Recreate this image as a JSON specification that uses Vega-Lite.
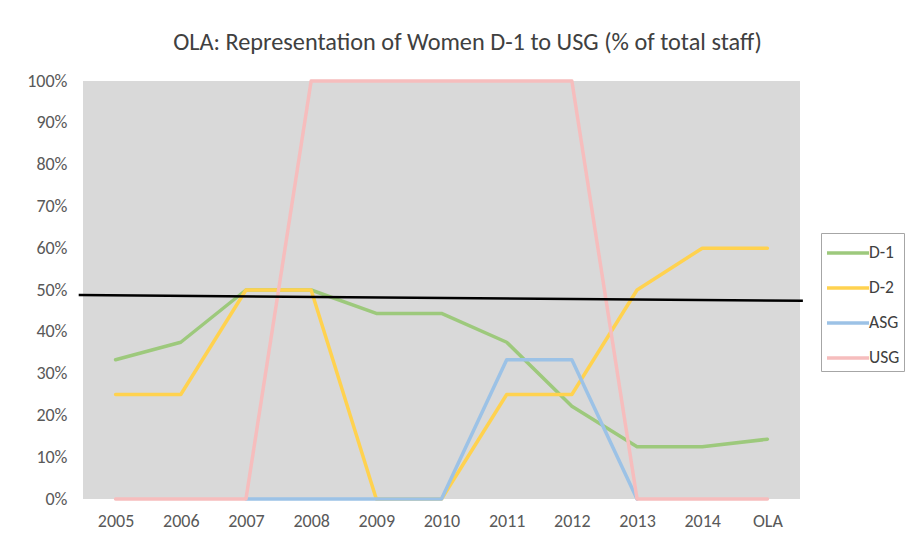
{
  "$schema": "https://vega.github.io/schema/vega-lite/v6.json",
  "width": 717,
  "height": 418,
  "autosize": {"type": "none"},
  "padding": {"left": 83, "top": 81, "right": 109, "bottom": 40},
  "background": "white",
  "config": {
    "font": "Carlito, Lato, Open Sans, sans-serif",
    "view": {"fill": "#d9d9d9", "stroke": null}
  },
  "title": {
    "text": "OLA: Representation of Women D-1 to USG (% of total staff)",
    "fontSize": 24.3,
    "fontWeight": "normal",
    "color": "#404040",
    "anchor": "middle",
    "dx": 26,
    "offset": 17
  },
  "datasets": {
    "series": [
      {"year": "2005", "series": "D-1", "value": 0.333},
      {"year": "2006", "series": "D-1", "value": 0.375},
      {"year": "2007", "series": "D-1", "value": 0.5},
      {"year": "2008", "series": "D-1", "value": 0.5},
      {"year": "2009", "series": "D-1", "value": 0.444},
      {"year": "2010", "series": "D-1", "value": 0.444},
      {"year": "2011", "series": "D-1", "value": 0.375},
      {"year": "2012", "series": "D-1", "value": 0.222},
      {"year": "2013", "series": "D-1", "value": 0.125},
      {"year": "2014", "series": "D-1", "value": 0.125},
      {"year": "OLA", "series": "D-1", "value": 0.143},
      {"year": "2005", "series": "D-2", "value": 0.25},
      {"year": "2006", "series": "D-2", "value": 0.25},
      {"year": "2007", "series": "D-2", "value": 0.5},
      {"year": "2008", "series": "D-2", "value": 0.5},
      {"year": "2009", "series": "D-2", "value": 0.0},
      {"year": "2010", "series": "D-2", "value": 0.0},
      {"year": "2011", "series": "D-2", "value": 0.25},
      {"year": "2012", "series": "D-2", "value": 0.25},
      {"year": "2013", "series": "D-2", "value": 0.5},
      {"year": "2014", "series": "D-2", "value": 0.6},
      {"year": "OLA", "series": "D-2", "value": 0.6},
      {"year": "2007", "series": "ASG", "value": 0.0},
      {"year": "2008", "series": "ASG", "value": 0.0},
      {"year": "2009", "series": "ASG", "value": 0.0},
      {"year": "2010", "series": "ASG", "value": 0.0},
      {"year": "2011", "series": "ASG", "value": 0.333},
      {"year": "2012", "series": "ASG", "value": 0.333},
      {"year": "2013", "series": "ASG", "value": 0.0},
      {"year": "2005", "series": "USG", "value": 0.0},
      {"year": "2006", "series": "USG", "value": 0.0},
      {"year": "2007", "series": "USG", "value": 0.0},
      {"year": "2008", "series": "USG", "value": 1.0},
      {"year": "2009", "series": "USG", "value": 1.0},
      {"year": "2010", "series": "USG", "value": 1.0},
      {"year": "2011", "series": "USG", "value": 1.0},
      {"year": "2012", "series": "USG", "value": 1.0},
      {"year": "2013", "series": "USG", "value": 0.0},
      {"year": "2014", "series": "USG", "value": 0.0},
      {"year": "OLA", "series": "USG", "value": 0.0}
    ],
    "marker": [
      {"t": -0.006, "value": 0.488},
      {"t": 1.004, "value": 0.474}
    ]
  },
  "layer": [
    {
      "data": {"name": "series"},
      "mark": {"type": "line", "strokeWidth": 3.5, "strokeCap": "round", "strokeJoin": "round"},
      "encoding": {
        "x": {
          "field": "year",
          "type": "ordinal",
          "sort": ["2005", "2006", "2007", "2008", "2009", "2010", "2011", "2012", "2013", "2014", "OLA"],
          "scale": {"type": "point", "padding": 0.5},
          "axis": {
            "title": null,
            "domain": false,
            "ticks": false,
            "grid": false,
            "labelAngle": 0,
            "labelFontSize": 18,
            "labelColor": "#595959",
            "labelPadding": 13
          }
        },
        "y": {
          "field": "value",
          "type": "quantitative",
          "scale": {"domain": [0, 1]},
          "axis": {
            "title": null,
            "format": ".0%",
            "values": [0, 0.1, 0.2, 0.3, 0.4, 0.5, 0.6, 0.7, 0.8, 0.9, 1],
            "domain": false,
            "ticks": false,
            "grid": false,
            "labelFontSize": 18,
            "labelColor": "#595959",
            "labelPadding": 16
          }
        },
        "color": {
          "field": "series",
          "type": "nominal",
          "sort": ["D-1", "D-2", "ASG", "USG"],
          "scale": {"domain": ["D-1", "D-2", "ASG", "USG"], "range": ["#9dc97c", "#ffd24f", "#9cc2e6", "#f6bdbd"]},
          "legend": {
            "title": null,
            "orient": "none",
            "legendX": 738,
            "legendY": 152,
            "symbolType": "M-1.5,0H1.5",
            "symbolSize": 784,
            "symbolOffset": 7,
            "symbolStrokeWidth": 3.5,
            "labelFontSize": 17.5,
            "labelColor": "#404040",
            "labelOffset": 5,
            "rowPadding": 10,
            "padding": 4,
            "strokeColor": "#a6a6a6",
            "fillColor": "white"
          }
        },
        "order": {"field": "year"}
      }
    },
    {
      "data": {"name": "marker"},
      "mark": {"type": "line", "color": "black", "strokeWidth": 2.5},
      "encoding": {
        "x": {"field": "t", "type": "quantitative", "scale": {"domain": [0, 1], "nice": false, "zero": false}, "axis": null},
        "y": {"field": "value", "type": "quantitative"}
      }
    }
  ],
  "resolve": {"scale": {"x": "independent"}}
}
